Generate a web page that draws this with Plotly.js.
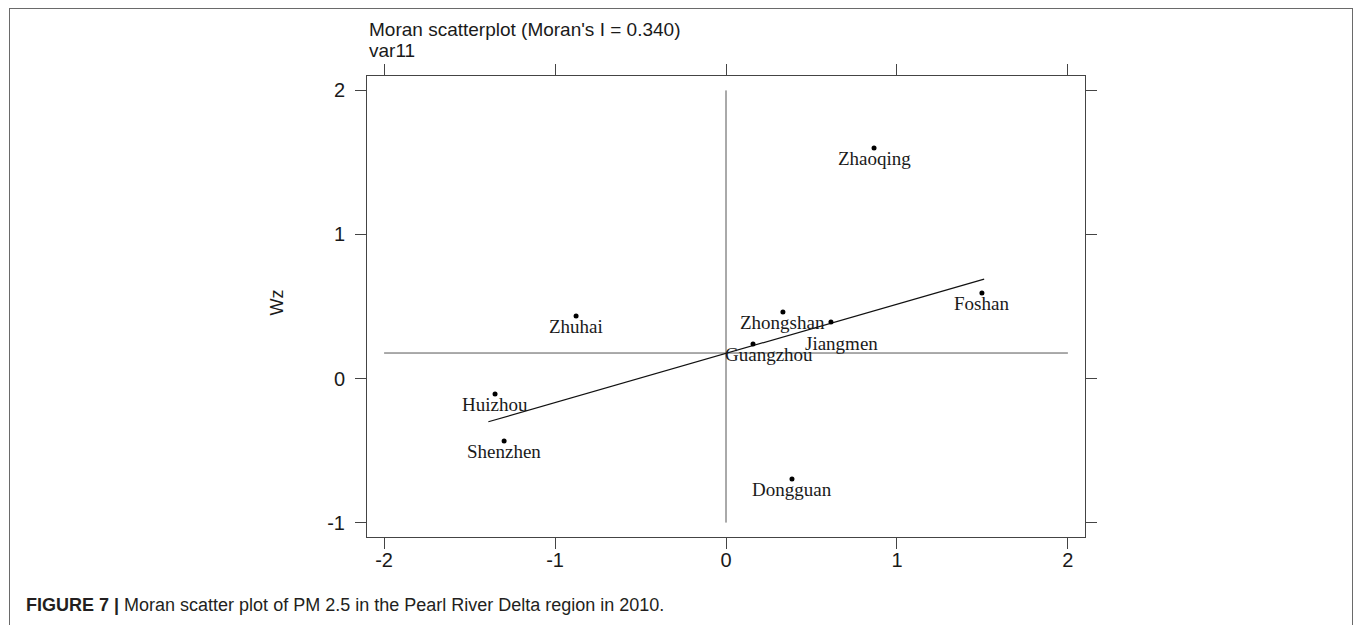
<!DOCTYPE html>
<html>
<head>
<meta charset="utf-8">
<script src="https://cdn.plot.ly/plotly-3.0.1.min.js"></script>
<style>
  html, body { margin: 0; padding: 0; background: #ffffff; }
  #wrap { position: relative; width: 1357px; height: 625px; overflow: hidden; }
  #chart { position: absolute; left: 0; top: 0; width: 1357px; height: 625px; }
  #frame { position: absolute; left: 9px; top: 8px; width: 1344px; height: 660px;
           border: 1px solid #6a6a6a; box-sizing: border-box; pointer-events: none; }
</style>
</head>
<body>
<div id="wrap">
  <div id="chart"></div>
  <div id="frame"></div>
</div>
<script>
// ---- data ----
const cities = ['Zhaoqing', 'Foshan', 'Zhongshan', 'Jiangmen', 'Guangzhou', 'Zhuhai', 'Huizhou', 'Shenzhen', 'Dongguan'];
const z  = [0.866, 1.497, 0.333, 0.614, 0.158, -0.877, -1.351, -1.298, 0.386];
const wz = [1.600, 0.593, 0.462, 0.392, 0.239, 0.434, -0.108, -0.434, -0.698];
const fitX = [-1.39, 1.51];
const fitY = [-0.30, 0.69];
const meanLineX = [-2, 2];
const meanLineY = [0.177, 0.177];
const zeroLineX = [0, 0];
const zeroLineY = [-1, 2];
const xTickVals = [-2, -1, 0, 1, 2];
const yTickVals = [-1, 0, 1, 2];
const titleLine1 = "Moran scatterplot (Moran's I = 0.340)";
const titleLine2 = "var11";
const yTitle = "Wz";
const captionBold = "FIGURE 7 |";
const captionText = " Moran scatter plot of PM 2.5 in the Pearl River Delta region in 2010.";

// label nudges (pixels) for a few crowded labels
const labelNudge = { Guangzhou: [16, 0], Jiangmen: [11, -11] };

const sans = 'Liberation Sans, Arial, sans-serif';
const serif = 'Liberation Serif, Times New Roman, serif';

const traces = [
  { x: meanLineX, y: meanLineY, mode: 'lines', line: { color: '#555', width: 1 }, hoverinfo: 'skip', showlegend: false },
  { x: zeroLineX, y: zeroLineY, mode: 'lines', line: { color: '#555', width: 1 }, hoverinfo: 'skip', showlegend: false },
  { x: fitX, y: fitY, mode: 'lines', line: { color: '#111', width: 1.2 }, hoverinfo: 'skip', showlegend: false },
  { x: z, y: wz, text: cities, mode: 'markers', marker: { color: '#000', size: 5 }, showlegend: false }
];

const annotations = cities.map((c, i) => {
  const n = labelNudge[c] || [0, 0];
  return {
    x: z[i], y: wz[i], xref: 'x', yref: 'y', text: c, showarrow: false,
    xanchor: 'center', yanchor: 'top', xshift: n[0], yshift: 2 + n[1],
    font: { family: serif, size: 19, color: '#1a1a1a' }
  };
});

annotations.push(
  { xref: 'paper', yref: 'paper', x: 0, y: 1.0748, xanchor: 'left', yanchor: 'bottom', showarrow: false,
    text: titleLine1, font: { family: sans, size: 19, color: '#1a1a1a' } },
  { xref: 'paper', yref: 'paper', x: 0, y: 1.0282, xanchor: 'left', yanchor: 'bottom', showarrow: false,
    text: titleLine2, font: { family: sans, size: 19, color: '#1a1a1a' } },
  { xref: 'paper', yref: 'paper', x: -0.1253, y: 0.5087, xanchor: 'center', yanchor: 'middle', showarrow: false,
    textangle: -90, text: yTitle, font: { family: sans, size: 18, color: '#1a1a1a' } },
  { xref: 'paper', yref: 'paper', x: -0.4777, y: -0.1735, xanchor: 'left', yanchor: 'bottom', showarrow: false,
    text: '<b>' + captionBold + '</b>' + captionText, font: { family: sans, size: 18, color: '#231f20' } }
);

const axisCommon = {
  showgrid: false, zeroline: false, showline: true, mirror: 'ticks',
  linecolor: '#444', linewidth: 1, ticks: 'outside', ticklen: 11, tickwidth: 1, tickcolor: '#444',
  tickfont: { family: sans, size: 20, color: '#1a1a1a' }, fixedrange: true
};

const layout = {
  width: 1357, height: 625,
  margin: { l: 367, r: 272, t: 76, b: 88, pad: 0 },
  paper_bgcolor: 'rgba(0,0,0,0)', plot_bgcolor: '#ffffff',
  xaxis: Object.assign({}, axisCommon, { range: [-2.1, 2.1], tickvals: xTickVals, ticktext: xTickVals.map(String), ticklabelstandoff: -6 }),
  yaxis: Object.assign({}, axisCommon, { range: [-1.1, 2.1], tickvals: yTickVals, ticktext: yTickVals.map(String), ticklabelstandoff: 6 }),
  annotations: annotations,
  showlegend: false
};

Plotly.newPlot('chart', traces, layout, { displayModeBar: false, staticPlot: true });
</script>
</body>
</html>
